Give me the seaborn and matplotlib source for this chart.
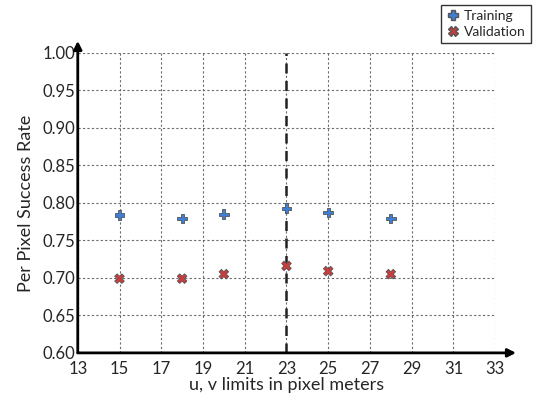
import matplotlib
matplotlib.use("Agg")
import matplotlib.pyplot as plt
import numpy as np
import pandas as pd
import seaborn as sns
from matplotlib.lines import Line2D

# data
limits = [15, 18, 20, 23, 25, 28]
training = [0.784, 0.779, 0.785, 0.793, 0.787, 0.779]
validation = [0.699, 0.699, 0.705, 0.716, 0.709, 0.705]
best_limit = 23

df = pd.DataFrame({
    "limit": limits * 2,
    "rate": training + validation,
    "set": ["Training"] * len(limits) + ["Validation"] * len(limits),
})

sns.set_style("white")
plt.rcParams["font.family"] = ["Lato", "DejaVu Sans"]

fig = plt.figure(figsize=(5.4, 4.01), dpi=100)
ax = fig.add_axes([0.144, 0.12, 0.773, 0.748])

# grid
ax.set_xticks(np.arange(13, 34, 2))
ax.set_yticks(np.arange(0.60, 1.001, 0.05))
ax.set_xlim(13, 33)
ax.set_ylim(0.60, 1.00)
ax.grid(True, color="#6a6a6a", linestyle=(0, (2, 2)), linewidth=0.8)
ax.set_axisbelow(True)
ax.axvline(best_limit, color="#222222", linestyle=(0, (4, 3)), linewidth=1.8, zorder=2)

sns.scatterplot(data=df, x="limit", y="rate", hue="set", style="set",
                palette={"Training": "#3d7fd6", "Validation": "#cc3b3b"},
                markers={"Training": "P", "Validation": "X"},
                s=48, edgecolor="#555555", linewidth=0.6, ax=ax, zorder=5,
                legend=False)

for sp in ax.spines.values():
    sp.set_visible(False)

# axis arrows
ax.annotate("", xy=(34.0, 0.60), xytext=(13, 0.60), xycoords="data",
            arrowprops=dict(arrowstyle="-|>", color="black", lw=2,
                            mutation_scale=12, shrinkA=0, shrinkB=0),
            annotation_clip=False)
ax.annotate("", xy=(13, 1.016), xytext=(13, 0.60), xycoords="data",
            arrowprops=dict(arrowstyle="-|>", color="black", lw=2,
                            mutation_scale=12, shrinkA=0, shrinkB=0),
            annotation_clip=False)

ax.set_xticklabels([str(v) for v in range(13, 34, 2)])
ax.set_yticklabels([f"{v:.2f}" for v in np.arange(0.60, 1.001, 0.05)])
ax.tick_params(axis="x", labelsize=12, length=0, pad=6)
ax.tick_params(axis="y", labelsize=12, length=0, pad=2)
ax.set_xlabel("u, v limits in pixel meters", fontsize=13, labelpad=0)
ax.set_ylabel("Per Pixel Success Rate", fontsize=13, labelpad=6)

handles = [
    Line2D([], [], marker="P", linestyle="", markerfacecolor="#3d7fd6",
           markeredgecolor="#555555", markersize=7, label="Training"),
    Line2D([], [], marker="X", linestyle="", markerfacecolor="#cc3b3b",
           markeredgecolor="#555555", markersize=7, label="Validation"),
]
leg = fig.legend(handles=handles, loc="upper right", bbox_to_anchor=(0.983, 0.988),
                 frameon=True, fancybox=False, edgecolor="black", fontsize=10,
                 handletextpad=0.3, borderpad=0.35, labelspacing=0.3,
                 handlelength=1.0, borderaxespad=0)
leg.get_frame().set_linewidth(1.0)

fig.savefig("out.png", dpi=100)
